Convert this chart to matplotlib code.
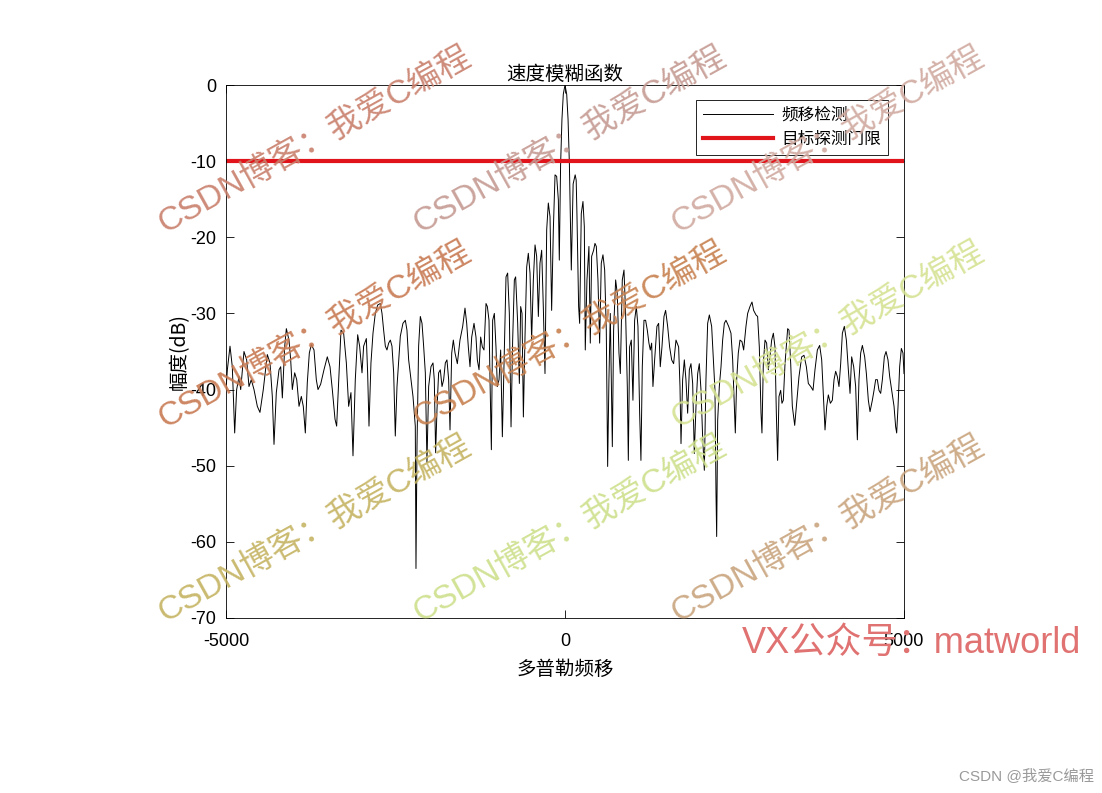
import numpy as np
import matplotlib
matplotlib.use('Agg')
import matplotlib.pyplot as plt

plt.rcParams['font.family'] = ['Noto Sans CJK SC', 'DejaVu Sans']
plt.rcParams['axes.unicode_minus'] = False

# Doppler shift (Hz) and amplitude (dB)
doppler_left = [
    -5000, -4980, -4941, -4907, -4872, -4843, -4808, -4783, -4735, -4695,
    -4661, -4627, -4587, -4538, -4499, -4450, -4391, -4351, -4317, -4292,
    -4258, -4218, -4193, -4169, -4134, -4110, -4071, -4046, -4022, -3987,
    -3957, -3923, -3889, -3860, -3830, -3801, -3771, -3742, -3702, -3668,
    -3643, -3604, -3555, -3506, -3466, -3432, -3392, -3368,
    -3304, -3265, -3225, -3191, -3157, -3127, -3093, -3058, -3029, -2994,
    -2970, -2930, -2911, -2891, -2862, -2832, -2798, -2763, -2724, -2699,
    -2675, -2650, -2626, -2601, -2576, -2552, -2527, -2503, -2478, -2429,
    -2390, -2355, -2331, -2306, -2272, -2242, -2208, -2198, -2183, -2159,
    -2134, -2109, -2085, -2060, -2036, -2011, -1977, -1947, -1928, -1908,
    -1888, -1864, -1839, -1814, -1790, -1765, -1741, -1716,
    -1696, -1671, -1647, -1622, -1588, -1549, -1509, -1475, -1450, -1426,
    -1401, -1376, -1342, -1313, -1293, -1268, -1244, -1219, -1195, -1165,
    -1145, -1121, -1106, -1086, -1067, -1042, -1018, -998, -973, -949,
    -924, -900, -870, -846, -821, -796, -772, -747, -728, -698,
    -673, -654, -634, -614, -590, -565, -541, -516, -492, -467,
    -442, -418, -393, -369, -344, -320, -295, -270, -246, -221,
    -197, -172, -147, -123, -98, -84,
]
level_left = [
    -40.0, -37.4, -34.3, -37.0, -45.7, -40.0, -38.3, -40.0, -35.0, -36.1,
    -39.6, -38.7, -40.0, -42.2, -43.0, -40.0, -35.4, -36.5, -40.9, -47.2,
    -40.4, -37.4, -37.0, -41.1, -34.3, -32.0, -33.5, -36.1, -40.0, -37.8,
    -38.7, -42.2, -40.9, -42.2, -45.7, -39.1, -35.2, -34.1, -34.8, -38.7,
    -40.0, -39.3, -37.4, -35.7, -37.0, -40.0, -43.9, -44.8,
    -32.2, -32.6, -36.5, -42.2, -40.4, -48.7, -38.7, -32.8, -34.3, -37.8,
    -34.3, -33.3, -37.8, -44.8, -36.5, -32.6, -30.0, -28.9, -28.7, -30.0,
    -32.2, -34.3, -34.8, -33.9, -33.5, -34.3, -37.8, -46.1, -39.6, -33.0,
    -31.3, -30.9, -32.2, -36.1, -38.7, -40.9, -44.8, -63.5, -47.4, -34.3,
    -30.4, -31.3, -34.3, -37.8, -49.6, -39.6, -37.0, -36.5, -38.7, -48.3,
    -42.6, -37.8, -37.4, -39.6, -38.7, -36.5, -36.1, -38.7,
    -45.3, -35.2, -33.5, -35.2, -36.6, -33.5, -31.7, -29.3, -31.3, -34.4,
    -37.0, -33.1, -31.3, -33.1, -36.1, -37.4, -33.1, -34.4, -34.8, -28.7,
    -29.1, -30.9, -38.7, -47.9, -30.9, -30.0, -34.4, -39.6, -38.7, -34.8,
    -46.2, -36.6, -25.2, -24.7, -30.0, -44.9, -33.5, -25.6, -25.2, -31.3,
    -39.2, -29.1, -30.0, -43.6, -33.1, -23.9, -22.1, -24.7, -33.5, -25.6,
    -21.0, -22.5, -30.4, -23.4, -21.7, -29.1, -37.9, -19.0, -15.5, -17.3,
    -29.6, -19.0, -11.8, -12.0, -15.1, -23.0,
]

doppler_main = [-65, -45, -25, 0, 25, 45, 65, 93, 120, 150, 165, 176]
level_main = [-10.5, -4.5, -1.2, 0.0, -1.2, -4.5, -10.5, -24.3, -13.0, -11.8, -12.5, -16.9]

doppler_right = [
    201, 216, 240, 265, 285, 299, 324, 353, 373, 393,
    422, 442, 462, 486, 511, 535, 560, 585, 609, 629,
    648, 668, 698, 717, 747, 771, 796, 816, 845, 870,
    894, 919, 934, 953, 978, 1002, 1027, 1052, 1076, 1101,
    1120, 1140, 1165, 1189, 1214, 1238, 1258, 1278, 1297, 1322,
    1356, 1381, 1405, 1430, 1460, 1484, 1514, 1543, 1573, 1602,
    1637, 1676, 1696, 1711, 1735, 1760, 1784, 1809, 1834, 1858,
    1883, 1907, 1932, 1957, 1981, 2006, 2030, 2055, 2079, 2104,
    2129, 2163, 2188, 2212, 2227, 2237, 2252, 2276, 2301, 2325,
    2350, 2374, 2414, 2448, 2473, 2497, 2512, 2532, 2556, 2581,
    2610, 2635, 2669, 2694, 2728, 2758, 2782, 2817, 2841, 2866,
    2891, 2905, 2925, 2950, 2974, 2999, 3023, 3048, 3073, 3097,
    3117, 3136, 3156, 3181, 3200, 3220, 3245, 3284,
    3304, 3329, 3353, 3388, 3412, 3451, 3491, 3525, 3560, 3589,
    3624, 3658, 3687, 3722, 3756, 3786, 3810, 3835, 3860, 3884,
    3914, 3943, 3968, 3992, 4017, 4041, 4066, 4091, 4120, 4150,
    4179, 4204, 4228, 4258, 4287, 4312, 4336, 4361, 4386, 4420,
    4445, 4474, 4499, 4533, 4558, 4582, 4607, 4631, 4656, 4681,
    4710, 4735, 4764, 4789, 4818, 4853, 4877, 4892, 4912, 4936,
    4961, 4985, 5000,
]
level_right = [
    -29.1, -31.3, -16.9, -15.3, -18.6, -34.8, -25.6, -21.2, -33.9, -22.5,
    -21.7, -20.8, -21.2, -25.6, -33.9, -23.4, -22.3, -24.3, -32.2, -50.1,
    -38.7, -30.0, -47.5, -32.2, -25.6, -27.4, -35.2, -37.9, -25.6, -24.3,
    -30.0, -39.6, -49.3, -34.4, -33.5, -41.4, -30.9, -29.1, -31.7, -43.1,
    -49.3, -37.0, -30.9, -30.9, -32.2, -33.9, -34.8, -33.9, -39.6, -36.1,
    -31.7, -31.3, -37.0, -34.4, -30.4, -29.6, -31.7, -34.4, -36.1, -36.6,
    -33.5, -34.4, -39.6, -47.1, -38.7, -36.1, -38.7, -43.1, -37.4, -36.6,
    -39.2, -48.4, -42.2, -37.9, -36.6, -40.1, -46.2, -50.6, -38.7, -31.3,
    -30.2, -31.7, -36.1, -40.1, -53.6, -59.3, -44.0, -39.6, -37.0, -33.5,
    -31.3, -30.9, -31.7, -32.6, -36.1, -42.2, -45.7, -38.7, -35.2, -33.5,
    -33.7, -34.8, -31.7, -30.0, -29.1, -28.5, -29.6, -30.2, -30.4, -34.4,
    -43.1, -45.7, -36.6, -33.5, -33.9, -37.4, -35.7, -33.5, -32.6, -34.4,
    -43.1, -49.3, -40.9, -40.1, -41.8, -41.4, -36.6, -32.0,
    -32.2, -36.6, -42.2, -44.7, -42.2, -38.3, -35.7, -35.5, -37.0, -39.2,
    -39.6, -40.1, -37.4, -34.8, -34.2, -36.1, -40.5, -45.3, -42.2, -40.7,
    -41.8, -41.4, -38.7, -37.6, -38.3, -39.6, -36.6, -32.6, -31.7, -33.5,
    -37.4, -40.5, -35.7, -37.0, -39.6, -46.6, -38.7, -35.2, -34.2, -35.7,
    -37.9, -41.4, -42.9, -41.4, -40.1, -38.7, -38.7, -40.1, -40.5, -38.7,
    -35.7, -35.0, -36.1, -38.3, -40.1, -42.2, -44.9, -45.7, -42.2, -37.0,
    -34.6, -35.2, -37.9,
]

threshold_db = -10
x_ticks = [-5000, 0, 5000]
y_ticks = [0, -10, -20, -30, -40, -50, -60, -70]

watermark_text = 'CSDN博客：我爱C编程'
# (x, y) of the watermark start in figure pixels, and its colour
watermarks = [
    (165, 233, '#c97f6c'), (420, 233, '#c49a92'), (678, 233, '#d0aaa0'),
    (165, 428, '#c87a52'), (420, 428, '#c7804e'), (678, 428, '#d5e292'),
    (165, 622, '#c5b462'), (420, 622, '#cde08c'), (678, 622, '#c9a47e'),
]

freq = np.array(doppler_left + doppler_main + doppler_right)
level = np.array(level_left + level_main + level_right)

W, H = 1102, 793
latin = ['Liberation Sans', 'Noto Sans CJK SC']
fig = plt.figure(figsize=(W / 100, H / 100), dpi=100)
ax = fig.add_axes([226 / W, 1 - 618 / H, 678 / W, 533 / H])

ax.plot(freq, level, color='black', linewidth=0.7, label='频移检测')
ax.axhline(threshold_db, color='#e0141a', linewidth=3, label='目标探测门限')

ax.set_xlim(-5000, 5000)
ax.set_ylim(-70, 0)
ax.set_xticks(x_ticks)
ax.set_yticks(y_ticks)
ax.tick_params(direction='in', top=True, right=True, labelsize=13,
               length=6, width=0.6)
ax.tick_params(axis='x', pad=11)
ax.tick_params(axis='y', pad=7)
for lab in ax.get_xticklabels() + ax.get_yticklabels():
    lab.set_family(latin)
for side in ax.spines.values():
    side.set_linewidth(0.6)

ax.set_title('速度模糊函数', fontsize=14, pad=4)
ax.set_xlabel('多普勒频移', fontsize=14, labelpad=6)
ax.set_ylabel('幅度(dB)', fontsize=14, labelpad=0)

leg = ax.legend(loc='upper right', bbox_to_anchor=(0.976, 0.972), fontsize=12,
                fancybox=False, framealpha=1, edgecolor='black',
                handlelength=4.2, borderpad=0.4, labelspacing=0.45,
                handletextpad=0.5, borderaxespad=0)
leg.get_frame().set_linewidth(0.6)

for px, py, col in watermarks:
    fig.text(px / W, 1 - py / H, watermark_text, color=col, fontsize=24,
             rotation=29, rotation_mode='anchor', ha='left', va='baseline',
             family=latin, alpha=0.9)

fig.text(742 / W, 1 - 653 / H, 'VX公众号：matworld', color='#e07272',
         fontsize=26, family=latin)
fig.text(1094 / W, 1 - 780 / H, 'CSDN @我爱C编程', color='#9a9a9a',
         fontsize=11, ha='right', family=latin)

fig.savefig('out.png', dpi=100)
